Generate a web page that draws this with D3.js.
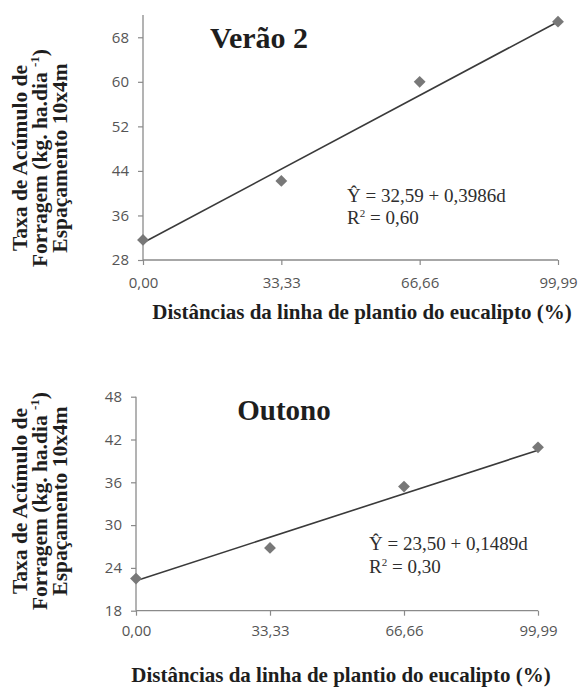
<!DOCTYPE html>
<html>
<head>
<meta charset="utf-8">
<script src="https://cdn.jsdelivr.net/npm/d3@7"></script>
<style>
  body { margin: 0; background: #fff; }
  svg { display: block; }
</style>
</head>
<body>
<div id="chart"></div>
<script>
// values
const distances = [0, 33.33, 66.66, 99.99];
const distanceLabels = ['0,00', '33,33', '66,66', '99,99'];
const veraoValues = [31.6, 42.2, 60.0, 70.8];
const outonoValues = [22.5, 26.8, 35.4, 40.9];
// trend line ends (at 0 and 99,99) as drawn
const veraoTrend = [31.1, 70.8];
const outonoTrend = [22.2, 40.5];
const veraoTicks = [28, 36, 44, 52, 60, 68];
const outonoTicks = [18, 24, 30, 36, 42, 48];
const panelTitles = ['Verão 2', 'Outono'];
const equations = ['Ŷ = 32,59 + 0,3986d', 'Ŷ = 23,50 + 0,1489d'];
const rSquared = ['0,60', '0,30'];
const xTitle = 'Distâncias da linha de plantio do eucalipto (%)';
const yTitleLines = ['Taxa de Acúmulo de', 'Forragem (kg. ha.dia', 'Espaçamento 10x4m'];

const W = 579, H = 687;
const serif = '"Liberation Serif", "Times New Roman", serif';
const sans = '"Open Sans", "Noto Sans", sans-serif';

const svg = d3.select('#chart').append('svg').attr('width', W).attr('height', H);

const panels = [
    {
        values: veraoValues, trend: veraoTrend, ticks: veraoTicks, yDomain: [28, 72],
        x0: 143, x1: 558, yBottom: 260, yTop: 15,
        title: panelTitles[0], titleX: 259, titleY: 48, titleSize: 30,
        eq: equations[0], r2: rSquared[0], eqX: 347, eqY: 202, eqY2: 224,
        yTitleY: 158, xTitleX: 362, xTitleY: 319, tickPad: 12
    },
    {
        values: outonoValues, trend: outonoTrend, ticks: outonoTicks, yDomain: [18, 48],
        x0: 136, x1: 538, yBottom: 610.7, yTop: 396.7,
        title: panelTitles[1], titleX: 284, titleY: 420, titleSize: 29,
        eq: equations[1], r2: rSquared[1], eqX: 369, eqY: 550, eqY2: 573,
        yTitleY: 501, xTitleX: 341, xTitleY: 682, tickPad: 10
    }
];

panels.forEach((p) => {
    const x = d3.scaleLinear().domain([0, 99.99]).range([p.x0, p.x1]);
    const y = d3.scaleLinear().domain(p.yDomain).range([p.yBottom, p.yTop]);
    const g = svg.append('g');

    // y axis
    const yAxis = g.append('g')
        .attr('transform', `translate(${p.x0},0)`)
        .call(d3.axisLeft(y).tickValues(p.ticks).tickSize(5).tickPadding(9).tickFormat(d3.format('d')));
    // x axis
    const xAxis = g.append('g')
        .attr('transform', `translate(0,${p.yBottom})`)
        .call(d3.axisBottom(x).tickValues(distances).tickSize(5).tickPadding(p.tickPad)
            .tickFormat((d, i) => distanceLabels[i]));

    [yAxis, xAxis].forEach((a) => {
        a.select('.domain').attr('stroke', '#8a8a8a').attr('stroke-width', 1.3);
        a.selectAll('.tick line').attr('stroke', '#8a8a8a').attr('stroke-width', 1.2);
        a.selectAll('.tick text')
            .attr('fill', '#555')
            .style('font-family', sans)
            .style('font-size', '15px');
    });
    yAxis.select('.domain').attr('d', `M0,${p.yTop}V${p.yBottom}`);
    xAxis.select('.domain').attr('d', `M${p.x0},0H${p.x1}`);

    // trend line
    g.append('line')
        .attr('x1', x(distances[0])).attr('y1', y(p.trend[0]))
        .attr('x2', x(distances[distances.length - 1])).attr('y2', y(p.trend[1]))
        .attr('stroke', '#3a3a3a')
        .attr('stroke-width', 1.6);

    // points
    g.selectAll('path.pt')
        .data(p.values)
        .join('path')
        .attr('class', 'pt')
        .attr('d', d3.symbol(d3.symbolSquare, 70))
        .attr('transform', (d, i) => `translate(${x(distances[i])},${y(d)}) rotate(45)`)
        .attr('fill', '#787878');

    // panel title
    g.append('text')
        .attr('x', p.titleX)
        .attr('y', p.titleY)
        .attr('text-anchor', 'middle')
        .attr('fill', '#1e1e1e')
        .style('font-family', serif)
        .style('font-weight', 'bold')
        .style('font-size', `${p.titleSize}px`)
        .text(p.title);

    // equation and R², as two separate lines
    g.append('text')
        .attr('x', p.eqX)
        .attr('y', p.eqY)
        .attr('fill', '#2e2e2e')
        .style('font-family', serif)
        .style('font-size', '19px')
        .text(p.eq);
    const r2 = g.append('text')
        .attr('x', p.eqX)
        .attr('y', p.eqY2)
        .attr('fill', '#2e2e2e')
        .style('font-family', serif)
        .style('font-size', '19px');
    r2.append('tspan').text('R');
    r2.append('tspan').attr('dy', -7).style('font-size', '11px').text('2');
    r2.append('tspan').attr('dy', 7).text(` = ${p.r2}`);

    // x title
    g.append('text')
        .attr('x', p.xTitleX)
        .attr('y', p.xTitleY)
        .attr('text-anchor', 'middle')
        .attr('fill', '#1e1e1e')
        .style('font-family', serif)
        .style('font-weight', 'bold')
        .style('font-size', '21px')
        .text(xTitle);

    // y title, three rotated lines
    const yt = g.append('text')
        .attr('transform', `translate(0,${p.yTitleY}) rotate(-90)`)
        .attr('text-anchor', 'middle')
        .attr('fill', '#1e1e1e')
        .style('font-family', serif)
        .style('font-weight', 'bold')
        .style('font-size', '21.5px');
    yt.append('tspan').attr('x', 0).attr('y', 27).text(yTitleLines[0]);
    const l2 = yt.append('tspan').attr('x', 0).attr('y', 47);
    l2.append('tspan').text(yTitleLines[1] + ' ');
    l2.append('tspan').attr('dy', -8).style('font-size', '13px').text('-1');
    l2.append('tspan').attr('dy', 8).text(')');
    yt.append('tspan').attr('x', 0).attr('y', 67).text(yTitleLines[2]);
});
</script>
</body>
</html>
